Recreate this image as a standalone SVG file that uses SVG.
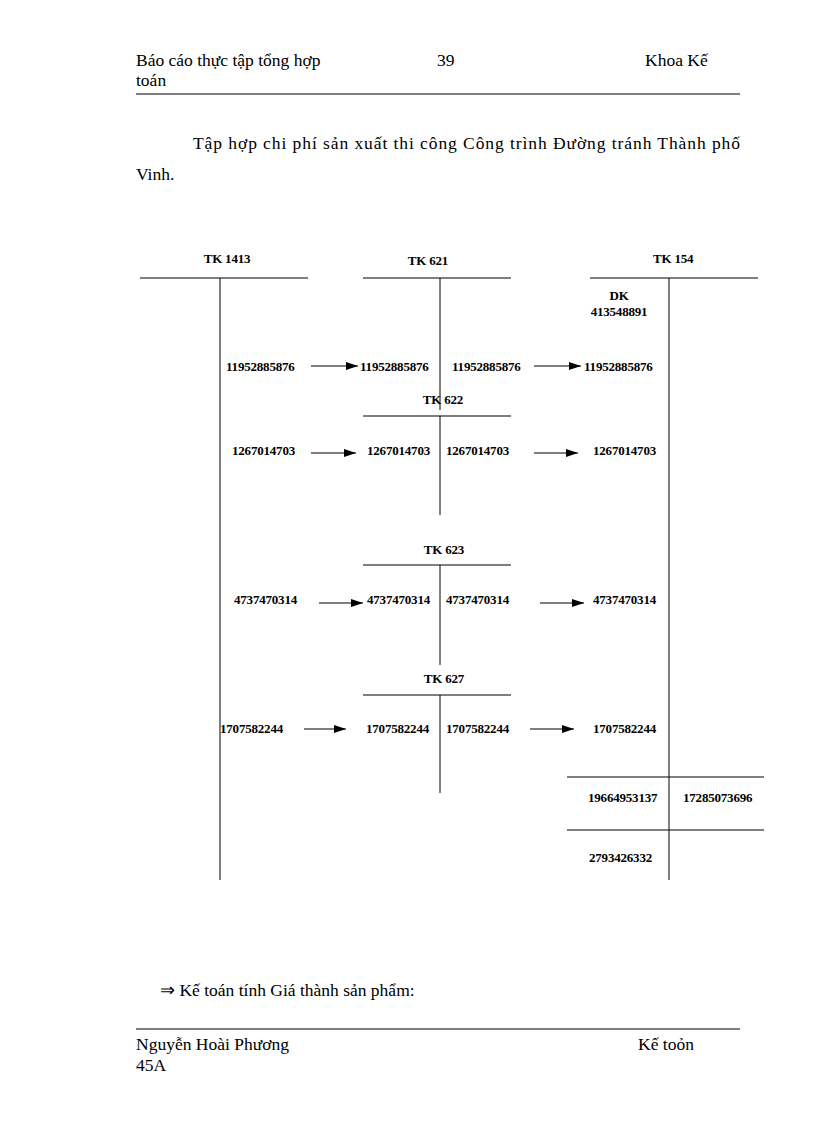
<svg xmlns="http://www.w3.org/2000/svg" width="816" height="1123" viewBox="0 0 816 1123">
<style>
.h{font-family:"Liberation Serif",serif;font-size:17.5px;fill:#000}
.t{font-family:"Liberation Serif",serif;font-size:13px;font-weight:bold;fill:#000;letter-spacing:-0.2px}
.l{stroke:#000;stroke-width:1;fill:none}
</style>
<defs><marker id="a" markerWidth="12" markerHeight="8" refX="12" refY="4" orient="auto" markerUnits="userSpaceOnUse"><path d="M0,0L12,4L0,8z" fill="#000"/></marker></defs>
<rect width="816" height="1123" fill="#fff"/>
<g id="header">
<text class="h" x="136" y="66">Báo cáo thực tập tổng hợp</text>
<text class="h" x="136" y="86">toán</text>
<text class="h" x="437" y="66">39</text>
<text class="h" x="645" y="66">Khoa Kế</text>
<line class="l" x1="136" y1="94" x2="740" y2="94" stroke-width="1.5"/>
<text class="h" x="193" y="149" textLength="547" lengthAdjust="spacing">Tập hợp chi phí sản xuất thi công Công trình Đường tránh Thành phố</text>
<text class="h" x="136" y="180">Vinh.</text>
</g>
<g id="tk1413"><text class="t" x="227" y="263" text-anchor="middle">TK 1413</text><line class="l" x1="140" y1="278" x2="308" y2="278"/><line class="l" x1="220" y1="278" x2="220" y2="880"/>
<text class="t" x="226" y="371">11952885876</text><text class="t" x="232" y="455">1267014703</text><text class="t" x="234" y="604">4737470314</text><text class="t" x="220" y="733">1707582244</text></g>
<g id="tk621"><text class="t" x="428" y="265" text-anchor="middle">TK 621</text><line class="l" x1="363" y1="278" x2="511" y2="278"/><line class="l" x1="440" y1="278" x2="440" y2="410"/>
<text class="t" x="360" y="371">11952885876</text><text class="t" x="452" y="371">11952885876</text></g>
<g id="tk622"><text class="t" x="443" y="404" text-anchor="middle">TK 622</text><line class="l" x1="363" y1="416" x2="511" y2="416"/><line class="l" x1="440" y1="416" x2="440" y2="515"/>
<text class="t" x="367" y="455">1267014703</text><text class="t" x="446" y="455">1267014703</text></g>
<g id="tk623"><text class="t" x="444" y="554" text-anchor="middle">TK 623</text><line class="l" x1="363" y1="565" x2="511" y2="565"/><line class="l" x1="440" y1="565" x2="440" y2="665"/>
<text class="t" x="367" y="604">4737470314</text><text class="t" x="446" y="604">4737470314</text></g>
<g id="tk627"><text class="t" x="444" y="683" text-anchor="middle">TK 627</text><line class="l" x1="363" y1="695" x2="511" y2="695"/><line class="l" x1="440" y1="695" x2="440" y2="793"/>
<text class="t" x="366" y="733">1707582244</text><text class="t" x="446" y="733">1707582244</text></g>
<g id="tk154"><text class="t" x="619" y="263" text-anchor="start" dx="34">TK 154</text><line class="l" x1="590" y1="278" x2="758" y2="278"/><line class="l" x1="669" y1="278" x2="669" y2="880"/>
<text class="t" x="619" y="300" text-anchor="middle">DK</text><text class="t" x="619" y="316" text-anchor="middle">413548891</text>
<text class="t" x="584" y="371">11952885876</text><text class="t" x="593" y="455">1267014703</text><text class="t" x="593" y="604">4737470314</text><text class="t" x="593" y="733">1707582244</text>
<line class="l" x1="567" y1="777" x2="764" y2="777"/><line class="l" x1="567" y1="830" x2="764" y2="830"/>
<text class="t" x="588" y="802">19664953137</text><text class="t" x="683" y="802">17285073696</text><text class="t" x="589" y="862">2793426332</text></g>
<g id="connectors">
<line class="l" x1="311" y1="366" x2="358" y2="366" marker-end="url(#a)"/>
<line class="l" x1="534" y1="366" x2="581" y2="366" marker-end="url(#a)"/>
<line class="l" x1="311" y1="453" x2="356" y2="453" marker-end="url(#a)"/>
<line class="l" x1="534" y1="453" x2="578" y2="453" marker-end="url(#a)"/>
<line class="l" x1="319" y1="603" x2="363" y2="603" marker-end="url(#a)"/>
<line class="l" x1="540" y1="603" x2="584" y2="603" marker-end="url(#a)"/>
<line class="l" x1="304" y1="729" x2="346" y2="729" marker-end="url(#a)"/>
<line class="l" x1="530" y1="729" x2="574" y2="729" marker-end="url(#a)"/>
</g>
<g id="footer">
<text class="h" x="160" y="996">⇒ Kế toán tính Giá thành sản phẩm:</text>
<line class="l" x1="136" y1="1029" x2="740" y2="1029" stroke-width="1.5"/>
<text class="h" x="136" y="1050">Nguyễn Hoài Phương</text>
<text class="h" x="136" y="1071">45A</text>
<text class="h" x="638" y="1050">Kế toỏn</text>
</g>
</svg>
